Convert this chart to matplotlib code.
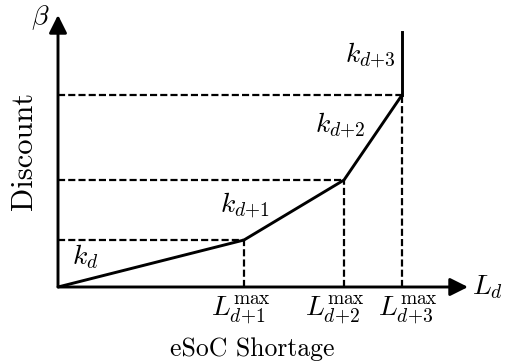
import matplotlib.pyplot as plt
from matplotlib.patches import FancyArrowPatch

plt.rcParams['mathtext.fontset'] = 'cm'
plt.rcParams['font.family'] = 'serif'
plt.rcParams['font.serif'] = ['cmr10', 'DejaVu Serif']
plt.rcParams['axes.unicode_minus'] = False

# piecewise discount curve (arbitrary units)
breaks = [0, 186, 286, 344]
beta = [0, 47, 107, 192]
beta_top = 255
tick_labels = [r'$L_{d{+}1}^{\max}$', r'$L_{d{+}2}^{\max}$', r'$L_{d{+}3}^{\max}$']
tick_nudge = [-3, -9, 6]
slope_labels = [r'$k_d$', r'$k_{d{+}1}$', r'$k_{d{+}2}$', r'$k_{d{+}3}$']
slope_pos = [(27, 30), (187, 81), (282, 161), (312, 231)]
x_end, y_end = 410, 272

fig = plt.figure(figsize=(5.18, 3.64), dpi=100)
ax = fig.add_axes([0, 0, 1, 1])
ax.set_xlim(-58, 460)
ax.set_ylim(-77, 287)
ax.axis('off')

lw = 2.1
# axes with arrows
for end in [(x_end, 0), (0, y_end)]:
    ax.add_patch(FancyArrowPatch((0, 0), end, arrowstyle='-|>,head_length=0.9,head_width=0.45',
                                 mutation_scale=12, color='black', lw=lw, shrinkA=0, shrinkB=0))

# curve
ax.plot(breaks, beta, color='black', lw=lw, solid_capstyle='butt')
ax.plot([breaks[-1], breaks[-1]], [beta[-1], beta_top], color='black', lw=lw)

# dashed guides
for xb, yb in zip(breaks[1:], beta[1:]):
    ax.plot([0, xb], [yb, yb], color='black', lw=1.6, ls=(0, (3.2, 1.4)))
    ax.plot([xb, xb], [0, yb], color='black', lw=1.6, ls=(0, (3.2, 1.4)))

fs = 18.5
fm = 20
for xb, dx, lab in zip(breaks[1:], tick_nudge, tick_labels):
    ax.text(xb + dx, -23, lab, ha='center', va='center', fontsize=fm)
for (px, py), lab in zip(slope_pos, slope_labels):
    ax.text(px, py, lab, ha='center', va='center', fontsize=fm)

ax.text(-18, 269, r'$\beta$', ha='center', va='center', fontsize=fm)
ax.text(430, 0, r'$L_d$', ha='center', va='center', fontsize=fm)
ax.text(194, -62, 'eSoC Shortage', ha='center', va='center', fontsize=fs)
ax.text(-34, 136, 'Discount', ha='center', va='center', rotation=90, fontsize=22)

fig.savefig('out.png', dpi=100)
